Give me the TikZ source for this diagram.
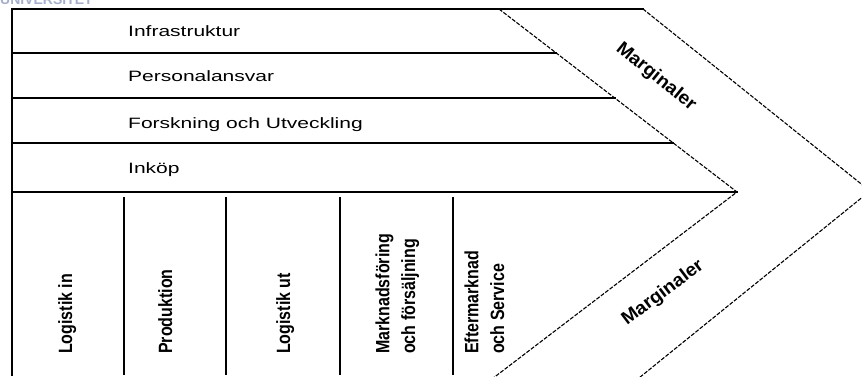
\documentclass[tikz,border=0pt]{standalone}
\usepackage{fontspec}
\setmainfont{Liberation Sans}
\usepackage{graphicx}
\definecolor{logoblue}{RGB}{165,175,205}
\tikzset{
  frame/.style={line width=2.4pt, line cap=rect},
  divider/.style={line width=2.4pt},
  margin/.style={line width=1.1pt, dash pattern=on 4pt off 1.5pt},
  hlabel/.style={anchor=base west, inner sep=0pt, font=\fontsize{15}{15}\selectfont},
  vlabel/.style={rotate=90, anchor=west, inner sep=0pt, font=\fontsize{16}{21.5}\selectfont\bfseries},
  mlabel/.style={inner sep=0pt, font=\fontsize{16}{16}\selectfont\bfseries}
}
\newcommand{\hstretch}[1]{\scalebox{1.4}[1]{#1}}
\newcommand{\vstretch}[1]{\scalebox{1}[1.2]{\begin{tabular}{@{}l@{}}#1\end{tabular}}}
\begin{document}
\begin{tikzpicture}[x=1pt,y=-1pt]
\useasboundingbox (0,0) rectangle (862,377);
\clip (0,0) rectangle (862,377);

% logo lettering running off the top edge
\node[anchor=base west, inner sep=0pt, text=logoblue,
      font=\fontsize{14}{14}\selectfont\bfseries] (logo) at (0,4.5)
      {UNIVERSITET};

% support activities: stacked rows
\draw[frame] (12,375) -- (12,9) -- (643,9);
\draw[frame] (12,53)  -- (556,53);
\draw[frame] (12,98)  -- (615,98);
\draw[frame] (12,143) -- (673,143);
\draw[frame] (12,192) -- (737,192);

% primary activities: column dividers
\foreach \x in {124,226,340,453}
  \draw[divider] (\x,197) -- (\x,375);

% margin chevron
\draw[margin] (499,9) -- (737,192) -- (488,382);
\draw[margin] (643,9) -- (870,191) -- (634,382);

% support activity labels
\node[hlabel] (infra) at (128,37)  {\hstretch{Infrastruktur}};
\node[hlabel] (pers)  at (128,82)  {\hstretch{Personalansvar}};
\node[hlabel] (fou)   at (128,129) {\hstretch{Forskning och Utveckling}};
\node[hlabel] (inkop) at (128,174) {\hstretch{Inköp}};

% primary activity labels
\node[vlabel] (login)  at (67,354)  {\vstretch{Logistik in}};
\node[vlabel] (prod)   at (167,354) {\vstretch{Produktion}};
\node[vlabel] (logut)  at (285,354) {\vstretch{Logistik ut}};
\node[vlabel] (mark)   at (397,354) {\vstretch{Marknadsföring\\och försäljning}};
\node[vlabel] (efter)  at (486,354) {\vstretch{Eftermarknad\\och Service}};

% margin labels
\node[mlabel, rotate=-39] (marg1) at (656,77)  {\scalebox{1.2}[1.15]{Marginaler}};
\node[mlabel, rotate=37]  (marg2) at (663,293) {\scalebox{1.2}[1.15]{Marginaler}};
\end{tikzpicture}
\end{document}
